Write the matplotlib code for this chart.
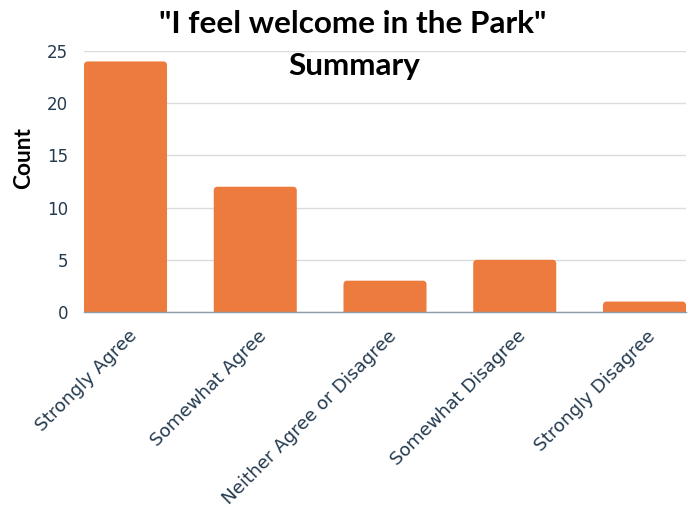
import matplotlib
matplotlib.use("Agg")
import matplotlib.pyplot as plt
from matplotlib.patches import FancyBboxPatch
from matplotlib.text import Text
import matplotlib.transforms as mtransforms

categories = ["Strongly Agree", "Somewhat Agree", "Neither Agree or Disagree",
              "Somewhat Disagree", "Strongly Disagree"]
counts = [24, 12, 3, 5, 1]
yticks = [0, 5, 10, 15, 20, 25]
title_lines = ['"I feel welcome in the Park"', "Summary"]

BAR = "#EC7B3D"
TICK = "#243A4F"
TITLE_FONT = "Lato"
TICK_FONT = "DejaVu Sans"

W, H, DPI = 6.93, 5.15, 100
fig = plt.figure(figsize=(W, H), dpi=DPI)
renderer = fig.canvas.get_renderer()


def size_for_width(text, family, weight, width_px):
    """Font size (pt) at which `text` renders `width_px` pixels wide."""
    t = Text(0, 0, text, fontsize=10, family=family, fontweight=weight)
    t.set_figure(fig)
    w = t.get_window_extent(renderer).width
    return 10 * width_px / w


ax = fig.add_axes([84 / 693, 203 / 515, 602 / 693, 261 / 515])

rects = ax.bar(range(len(categories)), counts, width=0.64, color=BAR)
# swap plain rectangles for ones with softly rounded top corners
for r in rects:
    x, w, h = r.get_x(), r.get_width(), r.get_height()
    r.remove()
    ax.add_patch(FancyBboxPatch((x, -1), w, h + 1,
                                boxstyle="round,pad=0,rounding_size=0.03",
                                mutation_aspect=12.5, facecolor=BAR,
                                edgecolor="none", zorder=2))

ax.set_xlim(-0.32, len(categories) - 1 + 0.32)
ax.set_ylim(0, 25)
ax.set_yticks(yticks)
ax.yaxis.grid(True, color="#D9DCDF", linewidth=1)
ax.set_axisbelow(True)
for s in ["top", "right", "left"]:
    ax.spines[s].set_visible(False)
ax.spines["bottom"].set_color("#8C9CAB")
ax.spines["bottom"].set_linewidth(1)
ax.spines["bottom"].set_zorder(3)
ax.tick_params(axis="both", length=0, labelcolor=TICK)
ax.tick_params(axis="y", pad=11.5, labelsize=12)
for lab in ax.get_yticklabels():
    lab.set_family(TICK_FONT)

xsize = min(size_for_width("Somewhat Disagree", TICK_FONT, "normal", 197),
            size_for_width("Neither Agree or Disagree", TICK_FONT, "normal", 238))
ax.set_xticks(range(len(categories)))
ax.set_xticklabels(categories, rotation=45, ha="right", rotation_mode="anchor",
                   fontsize=xsize, family=TICK_FONT)
offset = mtransforms.ScaledTranslation(2 / DPI, -10 / DPI, fig.dpi_scale_trans)
for lab in ax.get_xticklabels():
    lab.set_transform(lab.get_transform() + offset)

ysize = size_for_width("Count", TITLE_FONT, "bold", 62)
fig.text(24 / 693, 1 - 158 / 515, "Count", rotation=90, ha="center", va="center",
         fontsize=ysize, fontweight="bold", family=TITLE_FONT)

t1 = size_for_width(title_lines[0], TITLE_FONT, "bold", 389)
fig.text(352.5 / 693, 1 - 33 / 515, title_lines[0], ha="center", va="baseline",
         fontsize=t1, fontweight="bold", family=TITLE_FONT)
fig.text(354 / 693, 1 - 75 / 515, title_lines[1], ha="center", va="baseline",
         fontsize=t1, fontweight="bold", family=TITLE_FONT)

fig.savefig("out.png", dpi=DPI)
